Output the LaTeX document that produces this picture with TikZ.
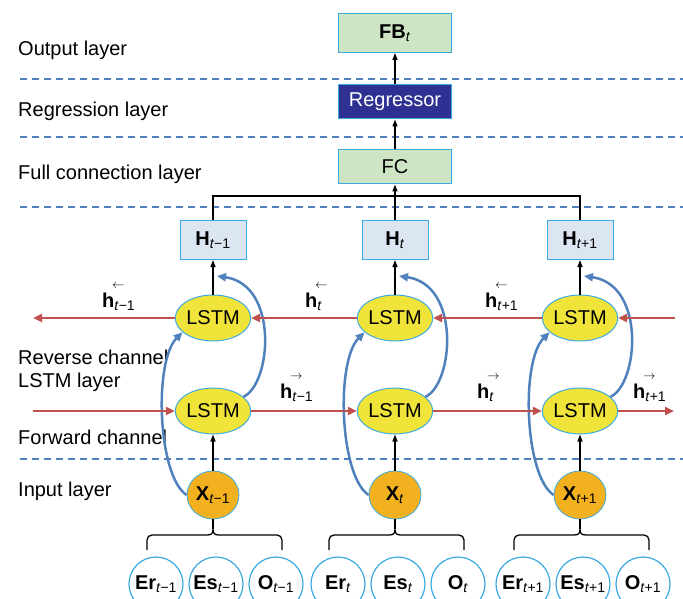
\documentclass[tikz,border=0pt]{standalone}
\usepackage{fontspec}
\usepackage{graphicx}
\setmainfont{Liberation Sans}
\usetikzlibrary{arrows.meta,shapes.geometric}
\definecolor{cred}{HTML}{C0504D}
\definecolor{cblue}{HTML}{4F81BD}
\definecolor{cedge}{HTML}{3BAAE0}
\definecolor{cyel}{HTML}{F0E43A}
\definecolor{corg}{HTML}{F4B11F}
\definecolor{chbox}{HTML}{DCE6F2}
\definecolor{cgreen}{HTML}{CDE5C5}
\definecolor{cnavy}{HTML}{2E3192}
\newcommand{\ti}{\textit{t}}
\newcommand{\tmo}{\textit{t}−1}
\newcommand{\tpo}{\textit{t}+1}
\newcommand{\bsb}[2]{\textbf{#1}\textsubscript{#2}}
\newcommand{\hv}[2]{\textbf{h}\makebox[0pt][l]{\hspace{-0.12em}\raisebox{0.95em}[0pt][0pt]{\scalebox{0.6}{$#1$}}}\textsubscript{#2}}
\begin{document}
\begin{tikzpicture}[x=1pt,y=-1pt,font=\fontsize{20}{23}\selectfont,
  box/.style={draw=cedge, line width=1pt, minimum width=113pt, minimum height=34pt, inner sep=0pt},
  greenbox/.style={box, fill=cgreen},
  navybox/.style={box, fill=cnavy, text=white},
  hbox/.style={draw=cedge, line width=1pt, fill=chbox, minimum width=66pt, minimum height=39pt, inner sep=0pt},
  lstm/.style={ellipse, draw=cedge, line width=1pt, fill=cyel, minimum width=72pt, minimum height=46pt, inner sep=0pt},
  xnode/.style={ellipse, draw=cedge, line width=0.8pt, fill=corg, minimum width=52pt, minimum height=48pt, inner sep=0pt},
  inode/.style={circle, draw=cedge, line width=1.2pt, fill=white, minimum size=54pt, inner sep=0pt},
  layerlbl/.style={anchor=base west, inner sep=0pt},
  hlbl/.style={anchor=base west, inner sep=0pt},
  blk/.style={-{Triangle[length=7pt,width=5pt]}, line width=1.4pt},
  redar/.style={cred, line width=2.5pt, -{Triangle[length=9pt,width=8pt]}},
  bluear/.style={cblue, line width=2.5pt, -{Triangle[length=9pt,width=8pt]}},
  sep/.style={cblue, line width=1.2pt, dash pattern=on 7pt off 5pt},
  brk/.style={line width=1.3pt}]
\useasboundingbox (0,0) rectangle (683,599);
% separators
\foreach \y [count=\k] in {79,137,207,459} {
  \coordinate (sl\k) at (20,\y); \coordinate (sr\k) at (683,\y);
  \draw[sep] (sl\k) -- (sr\k);
}
% layer labels
\node[layerlbl] (l1) at (18,56) {Output layer};
\node[layerlbl] (l2) at (18,117) {Regression layer};
\node[layerlbl] (l3) at (18,179) {Full connection layer};
\node[layerlbl] (l4) at (18,364) {Reverse channel};
\node[layerlbl] (l5) at (18,387) {LSTM layer};
\node[layerlbl] (l6) at (18,444) {Forward channel};
\node[layerlbl] (l7) at (18,496) {Input layer};
% top nodes
\node[greenbox, minimum height=39pt] (fb) at (395,33) {\bsb{FB}{\ti}};
\node[navybox] (reg) at (395,102) {Regressor};
\node[greenbox] (fc) at (395,167) {FC};
\draw[blk] (reg.north) -- (fb.south);
\draw[blk] (fc.north) -- (reg.south);
% columns
\foreach \i/\c/\s in {1/213/\tmo,2/395/\ti,3/580/\tpo} {
  \node[hbox] (H\i) at (\c,240) {\bsb{H}{\s}};
  \node[lstm] (Lr\i) at (\c,318) {LSTM};
  \node[lstm] (Lf\i) at (\c,411) {LSTM};
  \node[xnode] (X\i) at (\c,495) {\bsb{X}{\s}};
  \node[inode] (er\i) at ({\c-57},584) {\bsb{Er}{\s}};
  \node[inode] (es\i) at ({\c+3},584) {\bsb{Es}{\s}};
  \node[inode] (o\i) at ({\c+63},584) {\bsb{O}{\s}};
  \coordinate (k\i) at ({\c+4},276);
  \coordinate (tip\i) at (\c,529);
  \draw[brk] ({\c-66},550) -- ({\c-66},540) to[out=90,in=180] ({\c-61},535) -- ({\c-6},535)
     .. controls ({\c-1},535) and (\c,533) .. (tip\i)
     .. controls (\c,533) and ({\c+1},535) .. ({\c+6},535) -- ({\c+64},535)
     to[out=0,in=90] ({\c+69},540) -- ({\c+69},550);
  \draw[line width=1.3pt] (X\i.south) -- (tip\i);
  \draw[blk] (X\i.north) -- (Lf\i.south);
  \draw[blk] (Lr\i.north) -- (H\i.south);
  \draw[bluear] (X\i.west) .. controls +(-29,-19) and +(-29,29) .. (Lr\i.205);
  \draw[bluear] (Lf\i.25) .. controls +(28,-13) and +(62,9) .. (k\i);
}
% bus
\coordinate (bus) at (395,196);
\draw[line width=1.4pt] (H1.north) |- (H3.north |- bus) -- (H3.north);
\draw[blk] (H2.north) -- (fc.south);
% red channels
\coordinate (rin) at (675,318);
\coordinate (rout) at (33,318);
\coordinate (fin) at (33,411);
\coordinate (fout) at (674,411);
\draw[redar] (rin) -- (Lr3.east);
\draw[redar] (Lr3.west) -- (Lr2.east);
\draw[redar] (Lr2.west) -- (Lr1.east);
\draw[redar] (Lr1.west) -- (rout);
\draw[redar] (fin) -- (Lf1.west);
\draw[redar] (Lf1.east) -- (Lf2.west);
\draw[redar] (Lf2.east) -- (Lf3.west);
\draw[redar] (Lf3.east) -- (fout);
% hidden state labels
\node[hlbl] (hb1) at (102,307) {\hv{\leftarrow}{\tmo}};
\node[hlbl] (hb2) at (305,307) {\hv{\leftarrow}{\ti}};
\node[hlbl] (hb3) at (485,307) {\hv{\leftarrow}{\tpo}};
\node[hlbl] (hf1) at (280,398) {\hv{\rightarrow}{\tmo}};
\node[hlbl] (hf2) at (477,398) {\hv{\rightarrow}{\ti}};
\node[hlbl] (hf3) at (633,398) {\hv{\rightarrow}{\tpo}};
\end{tikzpicture}
\end{document}
